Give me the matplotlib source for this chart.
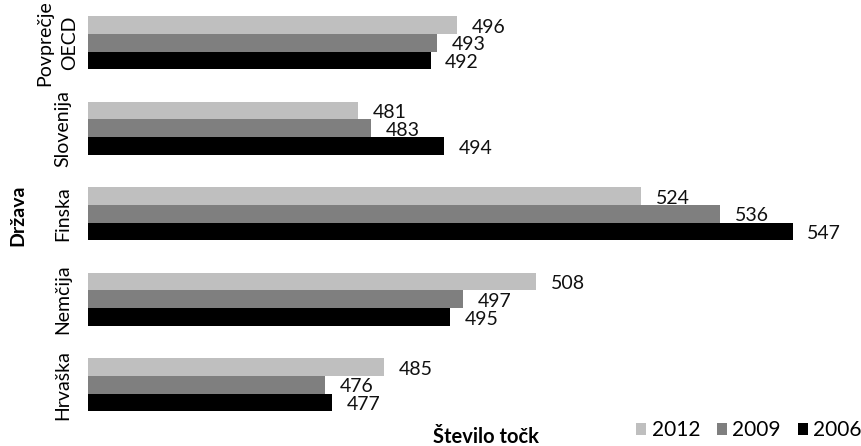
import matplotlib.pyplot as plt
import matplotlib as mpl
import matplotlib.transforms as mtransforms
import numpy as np

mpl.rcParams['font.family'] = ['Lato', 'DejaVu Sans']

# data
countries = ["Povprečje\nOECD", "Slovenija", "Finska", "Nemčija", "Hrvaška"]
years = ["2012", "2009", "2006"]
scores_2012 = [496, 481, 524, 508, 485]
scores_2009 = [493, 483, 536, 497, 476]
scores_2006 = [492, 494, 547, 495, 477]

colors = ['#bfbfbf', '#7f7f7f', '#000000']

fig = plt.figure(figsize=(8.62, 4.46), dpi=100)
ax = fig.add_axes([88 / 862, 18.5 / 446, 774 / 862, 427.5 / 446])

y = np.arange(len(countries))
h = 0.208
series = [scores_2012, scores_2009, scores_2006]
for i, (vals, col, lab) in enumerate(zip(series, colors, years)):
    pos = y + (i - 1) * h
    ax.barh(pos, vals, height=h, left=0, color=col, label=lab,
            edgecolor='none')
    # value labels just right of each bar, sitting a touch low like the original
    for v, p in zip(vals, pos):
        ax.annotate(str(v), (v, p), xytext=(10.5, -1.5),
                    textcoords='offset points', va='center', ha='left',
                    fontsize=14, color='#111111')

ax.set_xlim(440, 557.5)
ax.set_ylim(4.5, -0.5)

# category names drawn as rotated texts left of the bars
ax.set_yticks([])
ax.set_xticks([])
trans = mtransforms.blended_transform_factory(fig.transFigure, ax.transData)
for yy, name in zip(y, countries):
    xc = 57 if '\n' in name else 63
    ax.text(xc / 862, yy, name, rotation=90, transform=trans, ha='center',
            va='center', multialignment='center', fontsize=14,
            linespacing=1.6)
for s in ax.spines.values():
    s.set_visible(False)

fig.text(18 / 862, 1 - 215 / 446, "Država", rotation=90, fontsize=14,
         fontweight='bold', ha='center', va='center')
fig.text(486 / 862, 1 - 437 / 446, "Število točk", fontsize=14.5,
         fontweight='bold', ha='center', va='center')

fig.legend(loc='center left', bbox_to_anchor=(636 / 862, 1 - 430 / 446),
           ncol=3, frameon=False, fontsize=15, handlelength=0.5,
           handleheight=0.5, handletextpad=0.25, columnspacing=0.8,
           borderpad=0, borderaxespad=0)

fig.savefig('out.png', dpi=100)
